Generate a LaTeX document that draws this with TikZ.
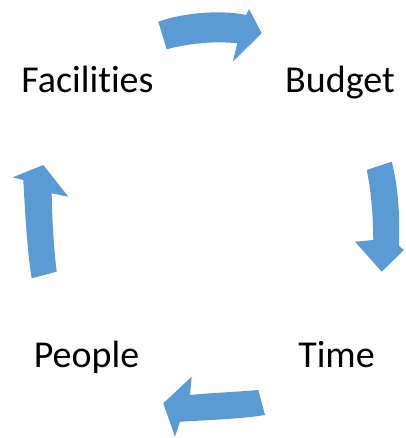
\documentclass[tikz,border=0pt]{standalone}
\usepackage{fontspec}
\setmainfont[Ligatures={NoCommon,NoRare,NoContextual}]{Carlito}
\definecolor{arrowblue}{HTML}{5B9BD5}
\tikzset{
  cyclearrow/.style={fill=arrowblue, draw=none},
  lbl/.style={inner sep=0pt, anchor=base, font=\fontsize{38}{44}\selectfont, text=black}
}
\begin{document}
\begin{tikzpicture}[x=1pt,y=-1pt]
\useasboundingbox (0,0) rectangle (405,438);
% labels
\node[lbl] (fac) at (87.5,93) {Facilit\kern0pt ies};
\node[lbl] (bud) at (340,93) {Budget};
\node[lbl] (peo) at (86.5,367) {People};
\node[lbl] (tim) at (336.5,367) {Time};
% top arrow
\fill[cyclearrow] (158.3,21.7) .. controls (185,12) and (225,10) .. (246,15)
  -- (249,9) -- (261.7,33.3) -- (232.7,61.7) -- (237.3,43.3)
  .. controls (215,41) and (190,43) .. (166.7,49.3) -- cycle;
% right arrow
\fill[cyclearrow] (366.7,170) -- (391.7,161.7) .. controls (398,185) and (400,215) .. (399,246)
  -- (404,250) -- (381.7,271.7) -- (355,241.7) -- (373.3,240)
  .. controls (373,220) and (372,195) .. (366.7,170) -- cycle;
% bottom arrow
\fill[cyclearrow] (258.3,390) .. controls (235,392) and (210,393) .. (190,395)
  -- (191.7,376.7) -- (163.3,403.3) -- (175,436.7) -- (180,421.7)
  .. controls (210,420) and (240,419) .. (265,415) -- cycle;
% left arrow
\fill[cyclearrow] (31.7,278.3) .. controls (27,250) and (25,210) .. (23.3,180)
  -- (12.7,177.3) -- (43.3,165) -- (68.3,196.7) -- (51.7,193.3)
  .. controls (52,220) and (54,250) .. (56.7,271.7) -- cycle;
\end{tikzpicture}
\end{document}
